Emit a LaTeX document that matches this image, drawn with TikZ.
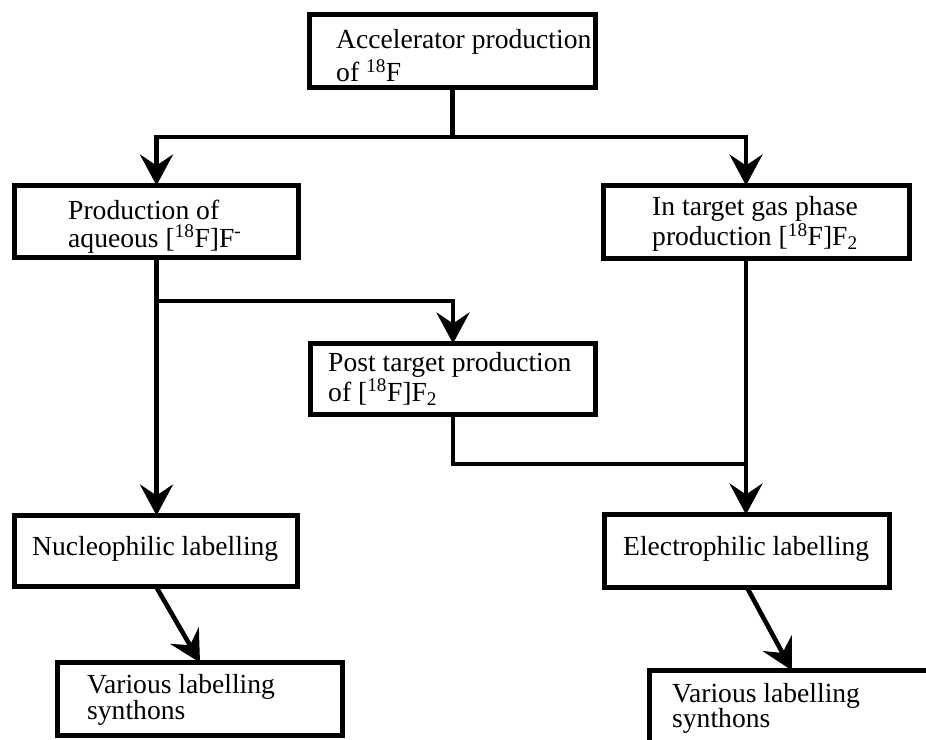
\documentclass[tikz,border=0pt]{standalone}
\usepackage{fontspec}
\setmainfont{Liberation Serif}
\usetikzlibrary{arrows.meta}
\newcommand\tln[3]{\vtop{\baselineskip=#1pt\hbox{#2}\hbox{#3}}}
\begin{document}
\begin{tikzpicture}[x=1pt,y=-1pt,
  box/.style n args={2}{draw, line width=5pt, minimum width=#1, minimum height=#2,
    inner sep=0pt, outer sep=0pt, anchor=north west},
  txt/.style={font=\fontsize{27.6pt}{33pt}\selectfont, inner sep=0pt, anchor=base west},
  conn/.style={line width=4.6pt},
  >={Stealth[length=31pt,width=33pt,inset=11pt]}]
\path[use as bounding box, fill=white] (0,0) rectangle (926,739);
\clip (0,0) rectangle (926,739);
% boxes
\node[box={286pt}{73pt}] (A) at (309.5,14.5) {};
\node[box={284pt}{72pt}] (B) at (14.5,185.5) {};
\node[box={306pt}{73pt}] (C) at (603.5,185.5) {};
\node[box={285pt}{71pt}] (F) at (310.5,343.5) {};
\node[box={283pt}{71pt}] (D) at (14.5,515.5) {};
\node[box={285pt}{73pt}] (E) at (604.5,514.5) {};
\node[box={285pt}{73pt}] (G) at (57.5,662.5) {};
\node[box={285pt}{73pt}] (H) at (649.5,670.5) {};
% texts
\node[txt] (tA) at (336,48.3) {\tln{33.4}{Accelerator production}{of \textsuperscript{18}F}};
\node[txt] (tB) at (68,219) {\tln{28}{Production of}{aqueous [\textsuperscript{18}F]F\textsuperscript{-}}};
\node[txt] (tC) at (652,215) {\tln{30.5}{In target gas phase}{production [\textsuperscript{18}F]F\textsubscript{2}}};
\node[txt] (tF) at (328,371) {\tln{30}{Post target production}{of [\textsuperscript{18}F]F\textsubscript{2}}};
\node[txt] (tD) at (32,555) {Nucleophilic labelling};
\node[txt] (tE) at (623,555) {Electrophilic labelling};
\node[txt] (tG) at (87,693) {\tln{26}{Various labelling}{synthons}};
\node[txt] (tH) at (672,702) {\tln{25.5}{Various labelling}{synthons}};
% helper coordinates
\coordinate (hA) at (0,137);
\coordinate (hB) at (0,301);
\coordinate (hF) at (0,464);
\coordinate (xC) at (746,0);
% connectors
\draw[conn] (A.south) -- (A.south |- hA);
\draw[conn,->] (A.south |- hA) -| (B.north);
\draw[conn,->] (A.south |- hA) -| (xC |- C.north);
\draw[conn,->] (B.south) -- (B.south |- D.north);
\draw[conn,->] (B.south |- hB) -| (F.north);
\draw[conn] (F.south) |- (xC |- hF);
\draw[conn,->] (xC |- C.south) -- (xC |- E.north);
\draw[conn,->] (D.south) -- (G.north);
\draw[conn,->] (E.south) -- (H.north);
\end{tikzpicture}
\end{document}
